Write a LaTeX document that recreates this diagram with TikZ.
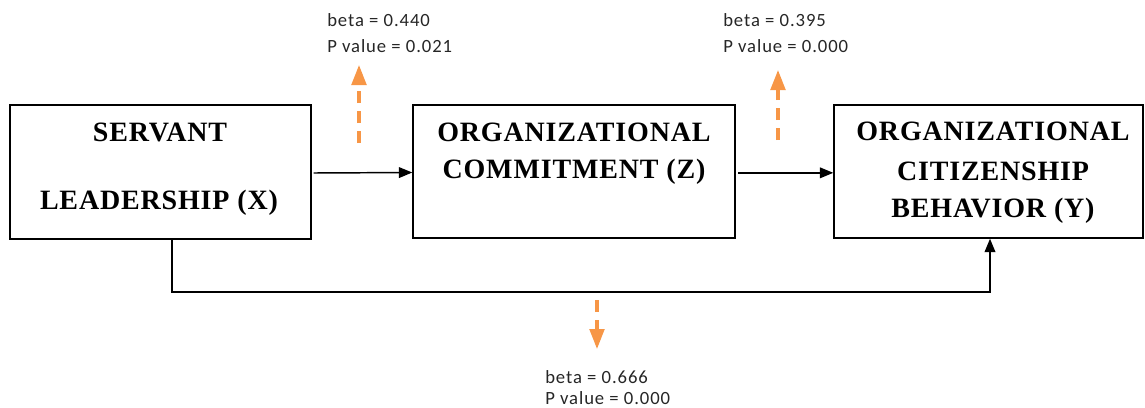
\documentclass[tikz,border=0pt]{standalone}
\usepackage{fontspec}
\setmainfont[LetterSpace=3]{Liberation Serif}
\newfontfamily\lblfont[LetterSpace=5]{Carlito}
\usetikzlibrary{arrows.meta}
\definecolor{accorange}{HTML}{F79646}
\begin{document}
\begin{tikzpicture}[x=0.75pt,y=-0.75pt,
  box/.style={draw=black,line width=1.1pt,fill=white,inner sep=0pt},
  boxtext/.style={font=\bfseries\fontsize{21}{24}\selectfont,inner sep=0pt},
  arr/.style={draw=black,line width=1.1pt,-{Triangle[length=10pt,width=8pt]}},
  oarr/.style={draw=accorange,line width=2.4pt,dash pattern=on 9pt off 6pt,-{Triangle[length=15pt,width=11pt]}},
  lbl/.style={font=\lblfont\fontsize{14}{16}\selectfont,anchor=west,inner sep=0pt,text=black!85}]
\useasboundingbox (0,0) rectangle (1145,407);
% boxes
\node[box,minimum width=225.75pt,minimum height=100.5pt] (X) at (160.5,172) {};
\node[box,minimum width=241.5pt,minimum height=99.75pt] (Z) at (574,171.5) {};
\node[box,minimum width=231.75pt,minimum height=99.75pt] (Y) at (988.5,171.5) {};
% box texts
\node[boxtext] (x1) at (160,132) {SERVANT};
\node[boxtext] (x2) at (159,203) {LEADERSHIP (X)};
\node[boxtext] (z1) at (574,132) {ORGANIZATIONAL};
\node[boxtext] (z2) at (574,172) {COMMITMENT (Z)};
\node[boxtext] (y1) at (993,131) {ORGANIZATIONAL};
\node[boxtext] (y2) at (993,171) {CITIZENSHIP};
\node[boxtext] (y3) at (993,211) {BEHAVIOR (Y)};
% connectors
\draw[arr] ([xshift=1.5pt,yshift=-0.75pt]X.east) -- ([yshift=-0.75pt]Z.west);
\draw[arr] ([xshift=2pt,yshift=-1pt]Z.east) -- ([yshift=-1pt]Y.west);
\coordinate (c1) at (172,292);
\coordinate (c2) at (990,292);
\draw[arr] (X.south -| c1) -- (c1) -| (Y.south -| c2);
% orange arrows
\coordinate (o1s) at (359,143);
\coordinate (o1e) at (359,65);
\coordinate (o2s) at (778,140);
\coordinate (o2e) at (778,70);
\coordinate (o3s) at (597,300);
\coordinate (o3e) at (597,349);
\draw[oarr] (o1s) -- (o1e);
\draw[oarr] (o2s) -- (o2e);
\draw[oarr] (o3s) -- (o3e);
% labels
\node[lbl] (b1) at (327,20) {beta = 0.440};
\node[lbl] (p1) at (327,46) {P value = 0.021};
\node[lbl] (b2) at (723,20) {beta = 0.395};
\node[lbl] (p2) at (723,46) {P value = 0.000};
\node[lbl] (b3) at (545,377) {beta = 0.666};
\node[lbl] (p3) at (545,398) {P value = 0.000};
\end{tikzpicture}
\end{document}
